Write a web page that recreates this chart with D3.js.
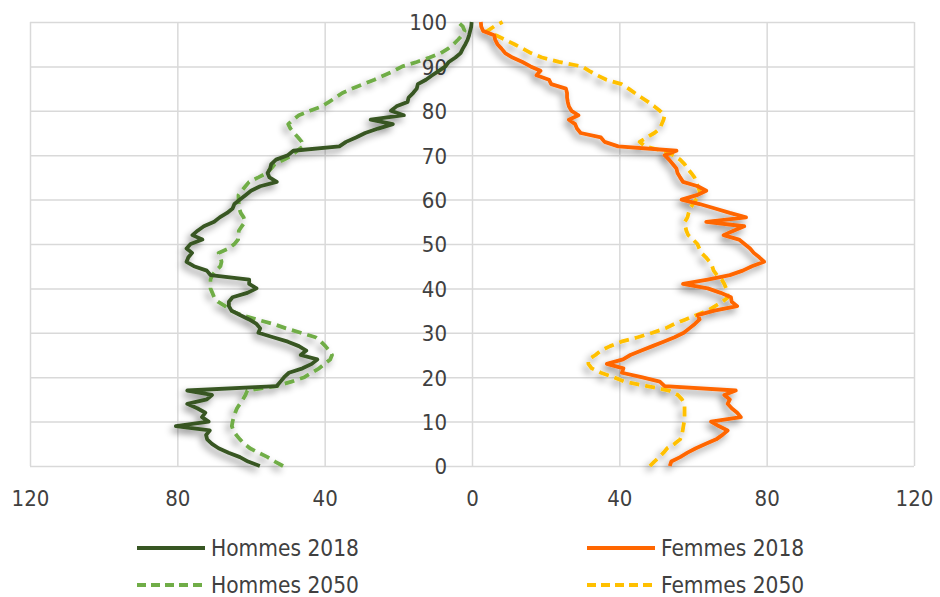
<!DOCTYPE html>
<html>
<head>
<meta charset="utf-8">
<script src="https://cdn.jsdelivr.net/npm/d3@7"></script>
<style>
  body { margin: 0; background: #fff; }
  text { font-family: "DejaVu Sans Condensed", "DejaVu Sans", sans-serif; font-stretch: condensed; fill: #404040; }
</style>
</head>
<body>
<div id="chart"></div>
<script>
// ages 0..100 (categories on the vertical axis)
var ages = d3.range(0, 101);

// men are plotted on the negative side
var hommes2018 = [-57.6, -60.8, -63, -66.1, -68.8, -70.6, -71.9, -72.2, -71.2, -80.4,
  -71.5, -73.3, -72.4, -74.6, -77.3, -72, -70.6, -77.3, -53, -52,
  -51, -49.7, -46, -43.5, -42, -46.5, -45, -47, -50, -54,
  -58, -57.5, -58.5, -60.5, -63, -65.3, -66, -66, -65, -61,
  -58.5, -60.5, -60.5, -71, -72, -75.5, -77.5, -77, -76, -77.5,
  -76.4, -73.2, -75.9, -74.5, -72.8, -70, -68.5, -66.5, -65, -64.5,
  -63, -61.5, -60, -57.5, -53, -55, -55.5, -54.8, -54.5, -53.2,
  -50, -48.5, -36, -34.2, -31.5, -29, -25.5, -21.5, -27.5, -18.5,
  -22, -20.5, -17.5, -17.2, -16, -15, -14.7, -12.5, -10.8, -9,
  -7.2, -6.3, -4.5, -3.1, -2.5, -1.8, -1.2, -0.8, -0.5, -0.2, -0.1];

var hommes2050 = [-51.3, -53.5, -55.5, -58, -60.3, -61.8, -63, -64, -64.8, -65.2,
  -65, -64.7, -64.3, -63.8, -63, -62.2, -61.5, -61, -53, -49,
  -45.5, -43.5, -41.5, -40, -38.5, -38, -38.8, -39.8, -41, -42.5,
  -46.5, -50.5, -54, -58.5, -62.5, -65.5, -67, -69, -70, -70.5,
  -71, -71, -71, -70.5, -69.5, -68.3, -68, -68.3, -68.8, -66,
  -64.5, -63.5, -63.4, -63.3, -62.5, -61.6, -62, -62.8, -63.2, -63.3,
  -63.4, -63.4, -62.5, -61.5, -60.5, -58, -55.7, -54.5, -53.5, -51,
  -48.8, -47.5, -45.8, -46.2, -47.2, -48.3, -49.3, -49.9, -48.5, -47,
  -44, -40.8, -38.8, -37, -35.2, -32.5, -29.5, -26.5, -23.8, -21.2,
  -18.9, -15, -11.5, -8.5, -6.5, -5, -3.8, -2.7, -2, -2.5, -3.8];

var femmes2018 = [53.7, 54.1, 56.5, 58.5, 60.8, 63.5, 66.3, 68, 69.4, 67,
  64.9, 73, 72, 70.5, 69.4, 70, 68.5, 71.6, 52.3, 51,
  46, 40.7, 41.1, 36.6, 41, 43, 46, 49, 52, 55,
  57.5, 59, 60.5, 61.8, 61.3, 65.8, 72, 70.5, 70.3, 67.5,
  64, 57.3, 64, 70, 73.5, 76, 79.3, 78, 76.5, 75.5,
  74, 72.5, 68.3, 71, 73.9, 63.6, 74.4, 70, 66, 61.8,
  56.9, 61, 63.6, 61.3, 57.3, 56.5, 55.8, 55.5, 54.5, 53.5,
  52.3, 55.5, 39.7, 36, 35, 29.5, 28.5, 28, 26.3, 28.9,
  27, 26.3, 26, 25.8, 25.8, 25.5, 21.5, 20.9, 17.5, 18.6,
  15.9, 13.7, 11, 9, 8, 6.9, 6.3, 6, 3, 2.5, 2.4];

var femmes2050 = [48.3, 49.5, 50.8, 52, 53, 55, 56.5, 57, 57.2, 57.4,
  57.6, 57.7, 57.7, 57.7, 57.7, 57, 55.9, 53.5, 47.5, 41.5,
  38.5, 35, 32.5, 31.6, 31.6, 33.5, 35, 37.5, 40.5, 45,
  49, 52.5, 55, 58, 61, 64, 66, 68, 69.5, 69.3,
  69, 68.5, 67.8, 66.5, 65.6, 65.2, 64.5, 63.5, 62.3, 61.7,
  61.2, 60, 58.7, 58.2, 57.9, 57.8, 58.5, 58.8, 59.2, 60,
  60.8, 61.8, 61.8, 61.3, 60.8, 60.4, 59.5, 58.5, 57.7, 56.5,
  54.8, 51.8, 47, 45.5, 47.5, 49.5, 51, 51.5, 52, 52.3,
  51, 49.5, 47.8, 46, 44.2, 42.5, 40.6, 36.5, 34, 31.8,
  29.8, 23.6, 19, 16, 13.8, 11.5, 9, 6.5, 4.2, 6, 8.3];

var xTicks = [-120, -80, -40, 0, 40, 80, 120];
var yTicks = [0, 10, 20, 30, 40, 50, 60, 70, 80, 90, 100];

var seriesNames = ["Hommes 2018", "Femmes 2018", "Hommes 2050", "Femmes 2050"];
var seriesValues = [hommes2018, femmes2018, hommes2050, femmes2050];
var seriesColors = ["#375623", "#ff6600", "#70ad47", "#ffc000"];
var seriesDashed = [false, false, true, true];

var svgWidth = 940;
var svgHeight = 597;

var margin = { top: 22, right: 26, bottom: 131, left: 30 };
var width = svgWidth - margin.left - margin.right;
var height = svgHeight - margin.top - margin.bottom;

var svg = d3.select("#chart")
  .append("svg")
  .attr("width", svgWidth)
  .attr("height", svgHeight);

// soft shadow under the lines
var filter = svg.append("defs").append("filter")
  .attr("id", "shadow")
  .attr("x", "-10%").attr("y", "-10%")
  .attr("width", "120%").attr("height", "120%");
filter.append("feDropShadow")
  .attr("dx", -3)
  .attr("dy", 4)
  .attr("stdDeviation", 3.5)
  .attr("flood-color", "#000")
  .attr("flood-opacity", 0.45);

var chartGroup = svg.append("g")
  .attr("transform", `translate(${margin.left}, ${margin.top})`);

var xScale = d3.scaleLinear().domain([-120, 120]).range([0, width]);
var yScale = d3.scaleLinear().domain([0, 100]).range([height, 0]);

// gridlines
chartGroup.append("g")
  .attr("class", "grid")
  .attr("transform", `translate(0, ${height})`)
  .call(d3.axisBottom(xScale).tickValues(xTicks).tickSize(-height).tickFormat(""))
  .call(g => g.select(".domain").remove())
  .call(g => g.selectAll("line").attr("stroke", "#d9d9d9").attr("stroke-width", 1.5));

chartGroup.append("g")
  .attr("class", "grid")
  .call(d3.axisLeft(yScale).tickValues(yTicks).tickSize(-width).tickFormat(""))
  .call(g => g.select(".domain").remove())
  .call(g => g.selectAll("line").attr("stroke", "#d9d9d9").attr("stroke-width", 1.5));

// x axis labels (absolute values)
chartGroup.append("g")
  .attr("transform", `translate(0, ${height})`)
  .call(d3.axisBottom(xScale).tickValues(xTicks).tickSize(0).tickPadding(24).tickFormat(d => Math.abs(d)))
  .call(g => g.select(".domain").remove())
  .call(g => g.selectAll("text").attr("font-size", 22).style("fill", "#404040"));

// y axis labels in the middle
chartGroup.append("g")
  .attr("transform", `translate(${xScale(0)}, 0)`)
  .call(d3.axisLeft(yScale).tickValues(yTicks).tickSize(0).tickPadding(25))
  .call(g => g.select(".domain").remove())
  .call(g => g.selectAll("text").attr("font-size", 22).attr("dy", "0.36em").style("fill", "#404040"));

// lines
var line = d3.line()
  .x(d => xScale(d[1]))
  .y(d => yScale(d[0]));

var linesGroup = chartGroup.append("g").attr("filter", "url(#shadow)");

[2, 3, 0, 1].forEach(function(i) {
  linesGroup.append("path")
    .datum(ages.map((a, k) => [a, seriesValues[i][k]]))
    .attr("fill", "none")
    .attr("stroke", seriesColors[i])
    .attr("stroke-width", 3.8)
    .attr("stroke-linejoin", "round")
    .attr("stroke-dasharray", seriesDashed[i] ? "10,6" : null)
    .attr("d", line);
});

// legend
var legendX = [137, 587];
var legendY = [548, 585];
seriesNames.forEach(function(name, i) {
  var lx = legendX[i % 2];
  var ly = legendY[Math.floor(i / 2)];
  var item = svg.append("g").attr("transform", `translate(${lx}, ${ly})`);
  item.append("line")
    .attr("x1", 0).attr("x2", 68)
    .attr("y1", 0).attr("y2", 0)
    .attr("stroke", seriesColors[i])
    .attr("stroke-width", 4)
    .attr("stroke-dasharray", seriesDashed[i] ? "9,5" : null);
  item.append("text")
    .attr("x", 74)
    .attr("y", 0)
    .attr("dy", "0.36em")
    .attr("font-size", 22.5)
    .text(name);
});
</script>
</body>
</html>
